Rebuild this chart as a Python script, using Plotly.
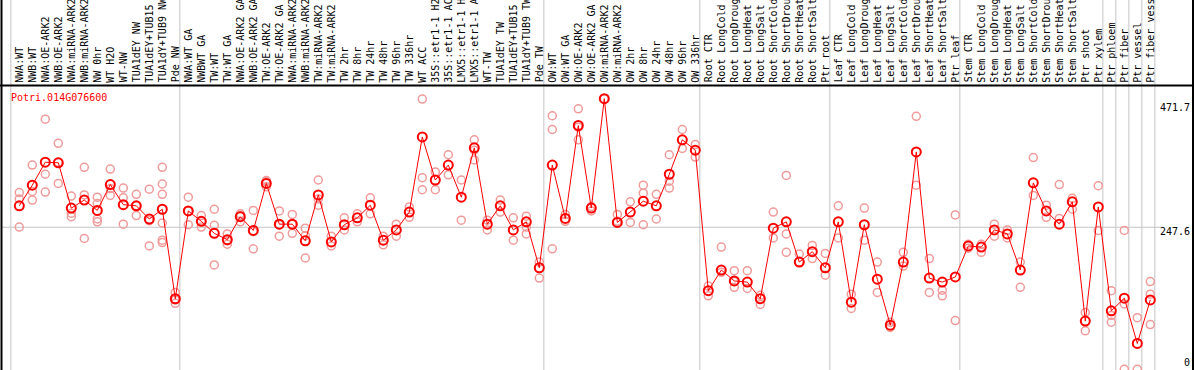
import plotly.graph_objects as go

W, H = 1194, 370

title = "Potri.014G076600"

categories = [
    "NWA:WT", "NWB:WT", "NWA:OE-ARK2", "NWB:OE-ARK2", "NWA:miRNA-ARK2", "NWB:miRNA-ARK2",
    "NW 0hr", "WT H2O", "WT-NW", "TUA1dEY NW", "TUA1dEY+TUB15", "TUA1dY+TUB9 NW", "Pde NW",
    "NWA:WT GA", "NWBWT GA", "TW:WT", "TW:WT GA", "NWA:OE-ARK2 GA", "NWB:OE-ARK2 GA",
    "TW:OE-ARK2", "TW:OE-ARK2 GA", "NWA:miRNA-ARK2", "NWB:miRNA-ARK2", "TW:miRNA-ARK2",
    "TW:miRNA-ARK2", "TW 2hr", "TW 8hr", "TW 24hr", "TW 48hr", "TW 96hr", "TW 336hr",
    "WT ACC", "35S::etr1-1 H2O", "35S::etr1-1 ACC", "LMX5::etr1-1 H2O", "LMX5::etr1-1 ACC",
    "WT-TW", "TUA1dEY TW", "TUA1dEY+TUB15", "TUA1dY+TUB9 TW", "Pde TW",
    "OW:WT", "OW:WT GA", "OW:OE-ARK2", "OW:OE-ARK2 GA", "OW:miRNA-ARK2", "OW:miRNA-ARK2",
    "OW 2hr", "OW 8hr", "OW 24hr", "OW 48hr", "OW 96hr", "OW 336hr",
    "Root CTR", "Root LongCold", "Root LongDrought", "Root LongHeat", "Root LongSalt",
    "Root ShortCold", "Root ShortDrought", "Root ShortHeat", "Root ShortSalt", "Ptr root",
    "Leaf CTR", "Leaf LongCold", "Leaf LongDrought", "Leaf LongHeat", "Leaf LongSalt",
    "Leaf ShortCold", "Leaf ShortDrought", "Leaf ShortHeat", "Leaf ShortSalt", "Ptr leaf",
    "Stem CTR", "Stem LongCold", "Stem LongDrought", "Stem LongHeat", "Stem LongSalt",
    "Stem ShortCold", "Stem ShortDrought", "Stem ShortHeat", "Stem ShortSalt", "Ptr shoot",
    "Ptr xylem", "Ptr phloem", "Ptr fiber", "Ptr vessel", "Ptr fiber vessel",
]

group_sizes = [13, 28, 12, 10, 10, 11, 1, 1, 1, 1]

means = [
    285, 321, 361, 360, 281, 295, 277, 322, 287, 285, 262, 279, 123,
    276, 258, 237, 226, 266, 242, 324, 253, 253, 224, 304, 222, 252, 264, 286,
    225, 243, 274, 405, 330, 356, 300, 386, 253, 285, 243, 257, 177,
    356, 263, 425, 281, 471.7, 256, 274, 293, 285, 340, 400, 382,
    137, 173, 154, 152, 123, 246, 257, 187, 205, 177,
    257, 117, 252, 157, 77, 187, 379, 159, 152, 161,
    215, 213, 243, 236, 173, 325, 276, 253, 292, 84,
    283, 102, 124, 45, 121,
]

replicates = [
    [308, 297, 248], [356, 310, 295], [436, 340, 309], [394, 324, 361],
    [302, 272, 266], [352, 304, 228], [300, 289, 262, 257], [349, 315, 303],
    [316, 299, 253], [305, 268, 285], [314, 259, 215],
    [352, 323, 305, 255, 225, 221], [134, 115, 121],
    [300, 252, 276], [268, 248, 258], [279, 251, 182], [236, 218, 224],
    [271, 257, 268], [277, 210, 240], [329, 318, 327], [276, 232, 252],
    [270, 237, 253], [246, 233, 194], [330, 297, 286], [232, 215],
    [264, 243], [271, 257], [299, 271], [232, 217], [253, 232], [283, 265],
    [471, 334, 313], [344, 313], [374, 339], [330, 260], [400, 382, 365],
    [260, 243], [295, 274], [264, 225], [267, 248, 236], [187, 159],
    [442, 418, 210], [270, 258], [454, 400, 422], [284, 276], [471.7],
    [270, 258], [292, 256], [321, 307, 252], [305, 262], [374, 328, 316],
    [418, 385], [392, 370],
    [145, 128], [213, 169], [172, 153, 143], [172, 141], [129, 113],
    [274, 229], [338, 236, 204], [201, 187], [216, 193], [202, 164],
    [285, 229], [131, 106], [281, 225], [187, 134], [82, 73], [204, 180],
    [441, 321], [193, 134], [138, 128], [269, 85],
    [218, 211], [218, 204], [253, 232], [243, 229], [187, 143], [369, 303],
    [286, 265], [322, 263], [298, 279], [99, 67],
    [320, 242], [137, 94, 82], [242, 114, 0], [90, 0], [153, 131, 78],
]

# ---- scales ----
X_PX0, X_STEP = 19.3, 13.0
xr0 = -X_PX0 / X_STEP
xr1 = xr0 + W / X_STEP
Y0_PX, YMAX_PX = 369.3, 98.7
ymax_label = 471.7
L = H * ymax_label / (Y0_PX - YMAX_PX)
yr1 = Y0_PX * L / H
yr0 = yr1 - L

def py(p):
    return 1 - p / H

n = len(categories)
xs = list(range(n))

fig = go.Figure()

rx, ry = [], []
for i, reps in enumerate(replicates):
    for v in reps:
        rx.append(i)
        ry.append(v)

fig.add_trace(go.Scatter(
    x=rx, y=ry, mode="markers",
    marker=dict(symbol="circle-open", size=8, color="#f09a9a", line=dict(width=1.5)),
    hoverinfo="skip", showlegend=False, cliponaxis=False,
))
fig.add_trace(go.Scatter(
    x=xs, y=means, mode="lines+markers",
    line=dict(color="#ff0000", width=1),
    marker=dict(symbol="circle-open", size=9, color="#ff0000", line=dict(width=2)),
    showlegend=False, cliponaxis=False,
))

shapes = []
pos = -1
sep_idx = [-1]
for g in group_sizes:
    pos += g
    sep_idx.append(pos)
for s in sep_idx:
    shapes.append(dict(type="line", xref="x", yref="paper", x0=s + 0.35, x1=s + 0.35,
                       y0=0, y1=1, line=dict(color="#c4c4c4", width=1), layer="below"))
shapes.append(dict(type="line", xref="paper", yref="y", x0=1.5 / W, x1=1163 / W,
                   y0=247.6, y1=247.6, line=dict(color="#c4c4c4", width=1), layer="below"))
shapes.append(dict(type="line", xref="paper", yref="paper", x0=1.5 / W, x1=1.5 / W, y0=0, y1=1,
                   line=dict(color="black", width=2)))
shapes.append(dict(type="line", xref="paper", yref="paper", x0=1193 / W, x1=1193 / W, y0=0, y1=1,
                   line=dict(color="black", width=2)))
shapes.append(dict(type="line", xref="paper", yref="paper", x0=0, x1=1, y0=py(85.5), y1=py(85.5),
                   line=dict(color="black", width=2)))

font = "DejaVu Sans Mono"
ann = []
for i, c in enumerate(categories):
    ann.append(dict(x=i, xref="x", y=py(84.5), yref="paper", text=c, textangle=-90,
                    xanchor="center", yanchor="bottom", showarrow=False,
                    font=dict(family=font, size=10, color="black")))
ann.append(dict(x=9 / W, xref="paper", y=py(97.5), yref="paper", text=title,
                xanchor="left", yanchor="middle", showarrow=False,
                font=dict(family=font, size=10, color="#ff0000")))
for val, p in [("471.7", 107.7), ("247.6", 231.7), ("0", 362)]:
    ann.append(dict(x=1192 / W, xref="paper", y=py(p), yref="paper", text=val,
                    xanchor="right", yanchor="middle", showarrow=False,
                    font=dict(family=font, size=10, color="black")))

fig.update_layout(
    width=W, height=H, margin=dict(l=0, r=0, t=0, b=0),
    paper_bgcolor="white", plot_bgcolor="white",
    xaxis=dict(range=[xr0, xr1], visible=False, showgrid=False, zeroline=False),
    yaxis=dict(range=[yr0, yr1], visible=False, showgrid=False, zeroline=False),
    shapes=shapes, annotations=ann, showlegend=False, hovermode=False,
)

fig.write_html("out.html", config={"displayModeBar": False},
               post_script="document.body.style.margin='0px';document.body.style.overflow='hidden';")
